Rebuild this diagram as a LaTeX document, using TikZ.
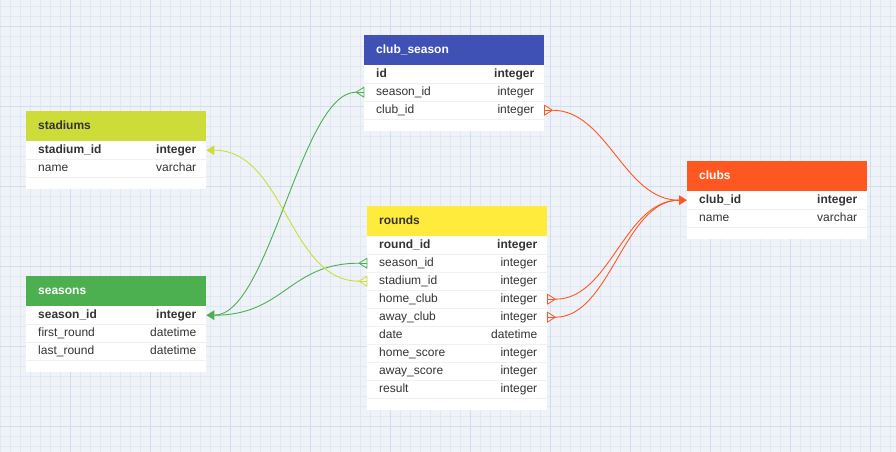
\documentclass[tikz,border=0pt]{standalone}
\usepackage{fontspec}
\setmainfont{Liberation Sans}
\usetikzlibrary{calc}
\definecolor{bg}{HTML}{EFF3F8}
\definecolor{gridminor}{HTML}{DFE8F4}
\definecolor{gridmajor}{HTML}{CFDFF3}
\definecolor{cIndigo}{HTML}{3F51B5}
\definecolor{cLime}{HTML}{CDDC39}
\definecolor{cGreen}{HTML}{4CAF50}
\definecolor{cYellow}{HTML}{FFEB3B}
\definecolor{cOrange}{HTML}{FF5722}
\definecolor{txt}{HTML}{333333}
\definecolor{sepc}{HTML}{F0F0F0}
\catcode`\_=12
\tikzset{
  hdr/.style={rectangle, inner xsep=12pt, inner ysep=0pt, text width=156pt, align=left,
    minimum height=30pt, font=\bfseries\fontsize{12}{14}\selectfont, text height=9pt, text depth=3pt},
  rowbox/.style={rectangle, inner sep=0pt, minimum width=180pt, minimum height=18pt},
  cell/.style={inner sep=0pt, text=txt, font=\fontsize{12}{14}\selectfont, text height=9pt, text depth=3pt},
  conn/.style={line width=0.9pt},
}
% #1 id, #2 x, #3 y, #4 header colour, #5 header text colour, #6 title, #7 number of rows, #8 rows
\newcommand{\mktable}[8]{%
  \fill[white] (#2,{#3+30}) rectangle ({#2+180},{#3+30+18*#7+12});
  \node[hdr, fill=#4, text=#5, anchor=north west] (#1) at (#2,#3) {#6};
  \foreach \n/\t/\w [count=\i] in {#8} {
    \node[rowbox, anchor=north west] (#1-\n) at (#2,{#3+30+18*(\i-1)}) {};
    \node[cell, anchor=west] (#1-\n-name) at ($(#1-\n.west)+(12,0)$) {\w\n};
    \node[cell, anchor=east] (#1-\n-type) at ($(#1-\n.east)+(-10,0)$) {\w\t};
    \draw[sepc, line width=1.6pt] (#1-\n.south west) -- (#1-\n.south east);
  }
}
% many end: #1 point, #2 direction (+1 right, -1 left), #3 colour
\newcommand{\crowend}[3]{%
  \draw[#3, line width=0.8pt, line join=round] ($(#1)+({#2*8},0)$) -- ($(#1)+(0,-5)$) -- ($(#1)+(0,5)$) -- cycle;
  \draw[#3, line width=0.8pt] ($(#1)+({#2*8},0)$) -- (#1);
}
% one end
\newcommand{\oneend}[3]{%
  \fill[#3] (#1) -- ($(#1)+({#2*8},-5)$) -- ($(#1)+({#2*8},5)$) -- cycle;
}
\begin{document}
\begin{tikzpicture}[x=1pt,y=-1pt]
\fill[bg] (0,0) rectangle (896,452);
\useasboundingbox (0,0) rectangle (896,452);
\foreach \x in {0,10,...,890} \draw[gridminor, line width=0.5pt] (\x,0) -- (\x,452);
\foreach \y in {6,16,...,446} \draw[gridminor, line width=0.5pt] (0,\y) -- (896,\y);
\foreach \x in {70,150,...,870} \draw[gridmajor, line width=0.6pt] (\x,0) -- (\x,452);
\foreach \y in {26,106,...,426} \draw[gridmajor, line width=0.6pt] (0,\y) -- (896,\y);

\mktable{cs}{364}{35}{cIndigo}{white}{club_season}{3}{id/integer/\bfseries, season_id/integer/\mdseries, club_id/integer/\mdseries}
\mktable{st}{26}{111}{cLime}{txt}{stadiums}{2}{stadium_id/integer/\bfseries, name/varchar/\mdseries}
\mktable{se}{26}{276}{cGreen}{white}{seasons}{3}{season_id/integer/\bfseries, first_round/datetime/\mdseries, last_round/datetime/\mdseries}
\mktable{ro}{367}{206}{cYellow}{txt}{rounds}{9}{round_id/integer/\bfseries, season_id/integer/\mdseries, stadium_id/integer/\mdseries, home_club/integer/\mdseries, away_club/integer/\mdseries, date/datetime/\mdseries, home_score/integer/\mdseries, away_score/integer/\mdseries, result/integer/\mdseries}
\mktable{cl}{687}{161}{cOrange}{white}{clubs}{2}{club_id/integer/\bfseries, name/varchar/\mdseries}

% connectors
\draw[conn, cGreen] ($(cs-season_id.west)+(-8,0)$) .. controls +(-55,0) and +(55,0) .. ($(se-season_id.east)+(8,0)$);
\draw[conn, cGreen] ($(ro-season_id.west)+(-8,0)$) .. controls +(-70,0) and +(70,0) .. ($(se-season_id.east)+(8,0)$);
\draw[conn, cLime] ($(ro-stadium_id.west)+(-8,0)$) .. controls +(-70,0) and +(70,0) .. ($(st-stadium_id.east)+(8,0)$);
\draw[conn, cOrange] ($(cs-club_id.east)+(8,0)$) .. controls +(55,0) and +(-55,0) .. ($(cl-club_id.west)+(-8,0)$);
\draw[conn, cOrange] ($(ro-home_club.east)+(8,0)$) .. controls +(55,0) and +(-55,0) .. ($(cl-club_id.west)+(-8,0)$);
\draw[conn, cOrange] ($(ro-away_club.east)+(8,0)$) .. controls +(55,0) and +(-55,0) .. ($(cl-club_id.west)+(-8,0)$);

\crowend{cs-season_id.west}{-1}{cGreen}
\crowend{ro-season_id.west}{-1}{cGreen}
\crowend{ro-stadium_id.west}{-1}{cLime}
\crowend{cs-club_id.east}{1}{cOrange}
\crowend{ro-home_club.east}{1}{cOrange}
\crowend{ro-away_club.east}{1}{cOrange}
\oneend{se-season_id.east}{1}{cGreen}
\oneend{st-stadium_id.east}{1}{cLime}
\oneend{cl-club_id.west}{-1}{cOrange}
\end{tikzpicture}
\end{document}
